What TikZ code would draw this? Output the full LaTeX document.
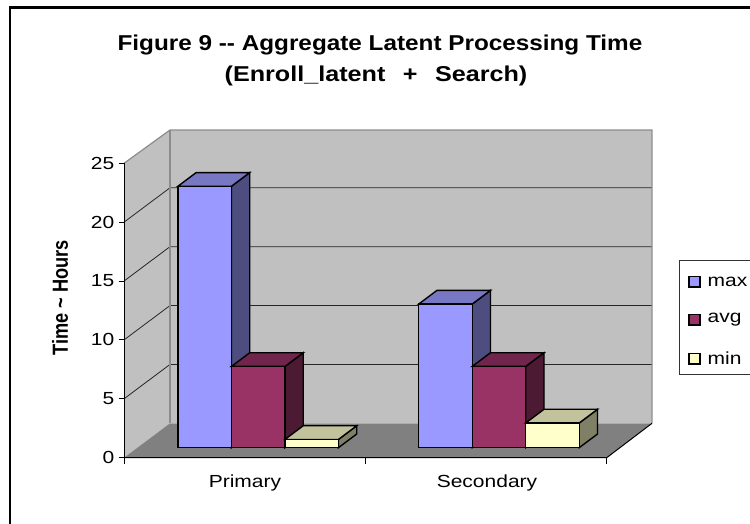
\documentclass[tikz,border=0pt]{standalone}
\usepackage{fontspec}
\usepackage{graphicx}
\setmainfont{Liberation Sans}
\newcommand\sx[1]{\scalebox{1.2}[1]{#1}}
\newcommand\tx[1]{\scalebox{1.17}[1]{#1}}
\newcommand\ty[1]{\scalebox{1.13}[1]{#1}}
\newcommand\cbar[5]{%
  % #1 = floor-front x of bar, #2 = value, #3 front, #4 top, #5 side
  \pgfmathsetmacro\bxa{#1+13.4}
  \pgfmathsetmacro\bxb{#1+13.4+53.5}
  \pgfmathsetmacro\byb{447.7}
  \pgfmathsetmacro\byt{447.7-#2*11.776}
  \filldraw[barline,fill=#5] (\bxb,\byb) -- (\bxb,\byt) -- ({\bxb+18.3},{\byt-13.7}) -- ({\bxb+18.3},{\byb-13.7}) -- cycle;
  \filldraw[barline,fill=#4] (\bxa,\byt) -- (\bxb,\byt) -- ({\bxb+18.3},{\byt-13.7}) -- ({\bxa+18.3},{\byt-13.7}) -- cycle;
  \filldraw[barline,fill=#3] (\bxa,\byb) rectangle (\bxb,\byt);
}
\definecolor{wallc}{HTML}{C0C0C0}
\definecolor{floorc}{HTML}{808080}
\definecolor{edgec}{HTML}{8C8C8C}
\definecolor{maxf}{HTML}{9999FF}
\definecolor{maxt}{HTML}{7777C4}
\definecolor{maxs}{HTML}{4D4D80}
\definecolor{avgf}{HTML}{993366}
\definecolor{avgt}{HTML}{71244C}
\definecolor{avgs}{HTML}{4D1A33}
\definecolor{minf}{HTML}{FFFFCC}
\definecolor{mint}{HTML}{C2C29C}
\definecolor{mins}{HTML}{808066}
\tikzset{
  barline/.style={draw=black,line width=1.4pt,line join=miter},
  grid/.style={draw=black!85,line width=0.8pt},
  wedge/.style={draw=edgec,line width=1.2pt},
  ticklab/.style={font=\fontsize{17.5}{19}\selectfont,anchor=east,inner sep=0pt},
  catlab/.style={font=\fontsize{17.5}{19}\selectfont,inner sep=0pt},
  titlab/.style={font=\bfseries\fontsize{21.5}{25}\selectfont,inner sep=0pt},
  leglab/.style={font=\fontsize{17.5}{19}\selectfont,anchor=west,inner sep=0pt},
  legsq/.style={draw=black,line width=1.2pt}
}
\begin{document}
\begin{tikzpicture}[x=1pt,y=-1pt]
\useasboundingbox (0,0) rectangle (750,524);
% outer border (right and bottom edges lie outside the picture)
\draw[line width=2.2pt] (10,524) -- (10,7.5) -- (750,7.5);
% title
\node[titlab] (t1) at (380,45) {\ty{Figure 9 {-}{-} Aggregate Latent Processing Time}};
\node[titlab] (t2) at (376,76) {\tx{(Enroll\_latent\ \ \hspace{3pt}+\ \ \hspace{3pt}Search)}};
% walls
\fill[wallc] (170,130) -- (652,130) -- (652,423.3) -- (170,423.3) -- cycle;
\fill[wallc] (124,163.3) -- (170,130) -- (170,423.3) -- (124,457.7) -- cycle;
% gridlines
\foreach \k in {1,2,3,4}{
  \draw[grid] (124,{457.7-\k*58.88}) -- (170,{423.3-\k*58.88}) -- (652,{423.3-\k*58.88});
}
% wall edges
\draw[wedge] (124,163.3) -- (170,130) -- (652,130) -- (652,423.3);
\draw[wedge] (170,130) -- (170,423.3);
% floor
\fill[floorc] (124,457.7) -- (606.7,457.7) -- (652,423.3) -- (170,423.3) -- cycle;
\draw[line width=1pt] (124,457.7) -- (606.7,457.7) -- (652,423.3);
% value axis
\draw[line width=1pt] (124,163.3) -- (124,457.7);
\foreach \k/\v in {0/0,1/5,2/10,3/15,4/20,5/25}{
  \draw[line width=0.9pt] (118.5,{457.7-\k*58.88}) -- (124,{457.7-\k*58.88});
  \node[ticklab] (y\v) at (114.5,{457.7-\k*58.88}) {\sx{\v}};
}
% category axis ticks
\foreach \xx in {124,365.35,606.7}{
  \draw[line width=0.9pt] (\xx,457.7) -- (\xx,463.5);
}
% bars
\cbar{164.5}{22.2}{maxf}{maxt}{maxs}
\cbar{218.0}{6.9}{avgf}{avgt}{avgs}
\cbar{271.5}{0.7}{minf}{mint}{mins}
\cbar{405.3}{12.2}{maxf}{maxt}{maxs}
\cbar{458.8}{6.9}{avgf}{avgt}{avgs}
\cbar{512.3}{2.1}{minf}{mint}{mins}
% category labels
\node[catlab] (c1) at (245,483) {\sx{Primary}};
\node[catlab] (c2) at (487,483) {\sx{Secondary}};
% axis title
\node[font=\bfseries\fontsize{18.2}{20}\selectfont,inner sep=0pt] (ytit) at (60,298) {\scalebox{1.2}[1]{\rotatebox{90}{Time \textasciitilde{} Hours}}};
% legend
\draw[line width=1pt,draw=black!80] (750,260) -- (679.3,260) -- (679.3,374) -- (750,374);
\draw[legsq,fill=maxf] (689,276.5) rectangle (700,287);
\draw[legsq,fill=avgf] (689,314.5) rectangle (700,325);
\draw[legsq,fill=minf] (689,353.5) rectangle (700,364);
\node[leglab] (l1) at (707.5,282) {\sx{max}};
\node[leglab] (l2) at (707.5,320) {\sx{avg}};
\node[leglab] (l3) at (707.5,358.5) {\sx{min}};
\end{tikzpicture}
\end{document}
